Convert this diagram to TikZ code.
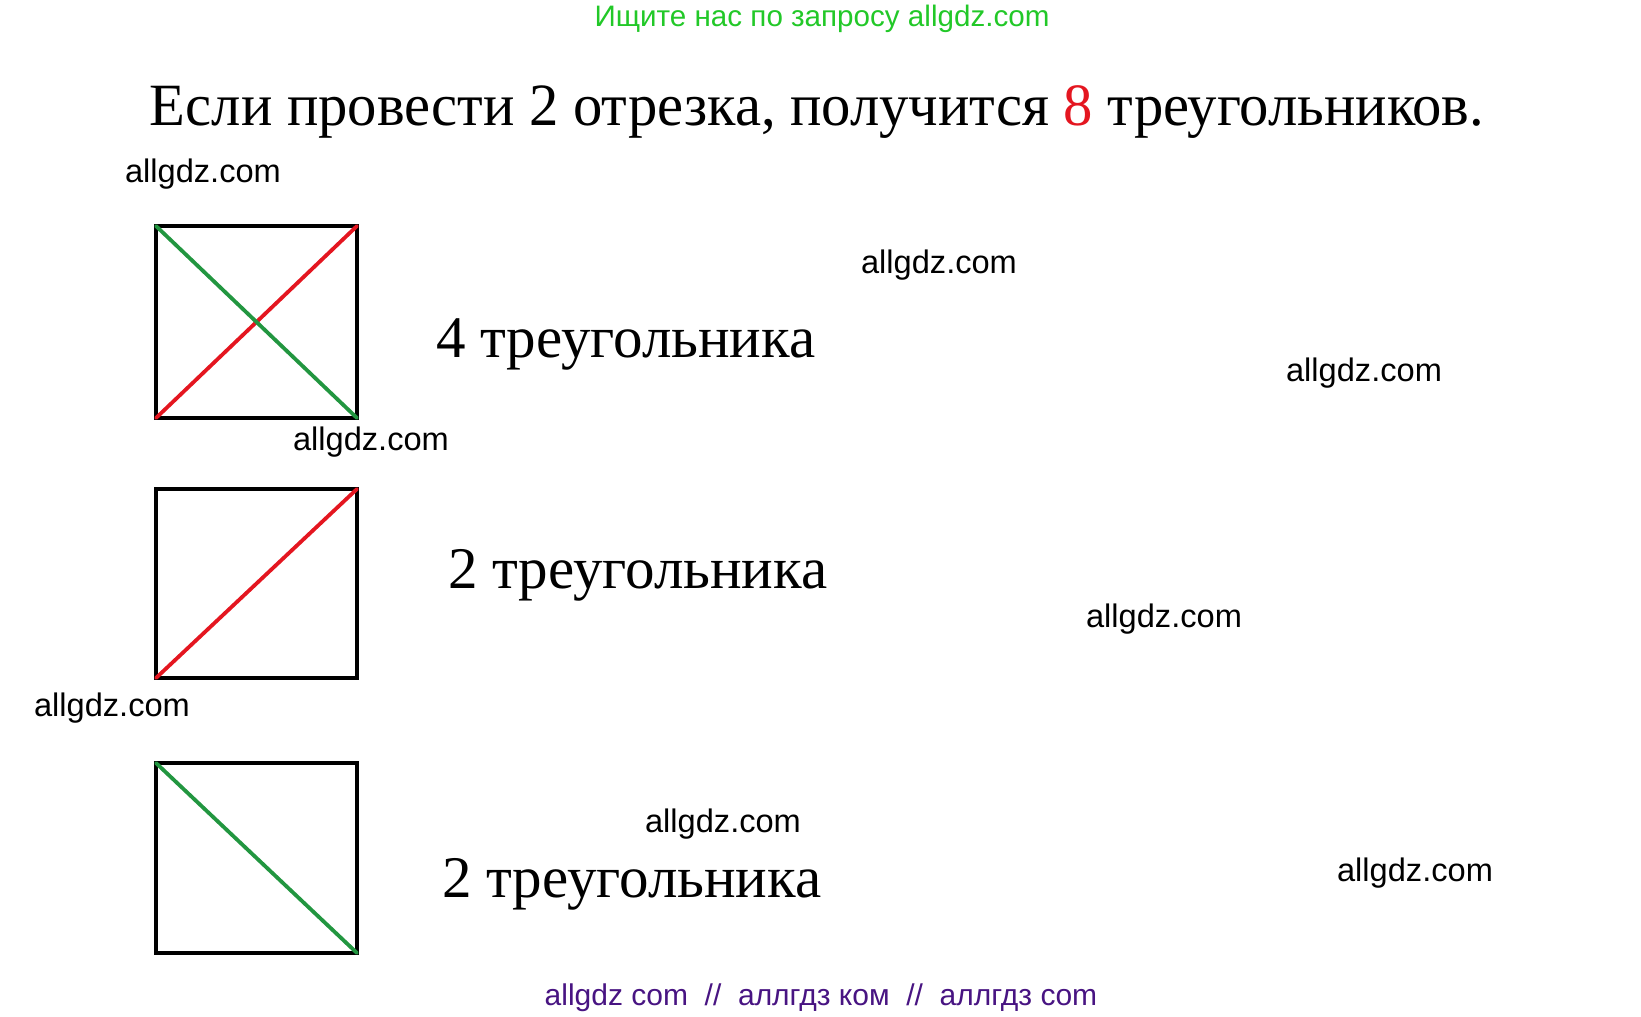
\documentclass[tikz,border=0pt]{standalone}
\usepackage{fontspec}
\setmainfont{Liberation Serif}
\newfontfamily\wmfont{Liberation Sans}
\definecolor{hintgreen}{RGB}{34,200,40}
\definecolor{linered}{RGB}{228,22,32}
\definecolor{linegreen}{RGB}{34,150,64}
\definecolor{footpurple}{RGB}{72,20,130}
\tikzset{
  sq/.style={line width=2pt},
  diag/.style={line width=1.9pt, line cap=round},
  wm/.style={anchor=center, font=\wmfont\fontsize{16.3}{18}\selectfont},
  count/.style={anchor=base west, font=\fontsize{29.5}{33}\selectfont}
}
\begin{document}
\begin{tikzpicture}[x=5pt,y=-5pt]
\useasboundingbox (0,0) rectangle (164.1,101.6);
% header and question
\node[anchor=center, text=hintgreen, font=\wmfont\fontsize{14.8}{16}\selectfont] (hint) at (82.2,1.9) {Ищите нас по запросу allgdz.com};
\node[anchor=base west, xscale=0.977, font=\fontsize{30}{34}\selectfont] (title) at (14.3,12.6)
  {Если провести 2 отрезка, получится \textcolor{linered}{8} треугольников.};
% both segments
\draw[sq] (15.6,22.6) rectangle (35.7,41.8);
\draw[diag, linered] (15.6,41.8) -- (35.7,22.6);
\draw[diag, linegreen] (15.6,22.6) -- (35.7,41.8);
\node[count] (four) at (42.9,35.7) {4 треугольника};
% red segment only
\draw[sq] (15.6,48.9) rectangle (35.7,67.8);
\draw[diag, linered] (15.6,67.8) -- (35.7,48.9);
\node[count] (twoa) at (44.1,58.8) {2 треугольника};
% green segment only
\draw[sq] (15.6,76.3) rectangle (35.7,95.3);
\draw[diag, linegreen] (15.6,76.3) -- (35.7,95.3);
\node[count] (twob) at (43.5,89.7) {2 треугольника};
% watermarks
\node[wm] (wma) at (20.3,17.4) {allgdz.com};
\node[wm] (wmb) at (93.9,26.5) {allgdz.com};
\node[wm] (wmc) at (136.4,37.3) {allgdz.com};
\node[wm] (wmd) at (37.1,44.2) {allgdz.com};
\node[wm] (wme) at (116.4,61.9) {allgdz.com};
\node[wm] (wmf) at (11.2,70.8) {allgdz.com};
\node[wm] (wmg) at (72.3,82.4) {allgdz.com};
\node[wm] (wmh) at (141.5,87.3) {allgdz.com};
\node[anchor=center, text=footpurple, font=\wmfont\fontsize{15}{17}\selectfont] (foot) at (82.1,99.8)
  {allgdz com~~//~~аллгдз ком~~//~~аллгдз com};
\end{tikzpicture}
\end{document}
